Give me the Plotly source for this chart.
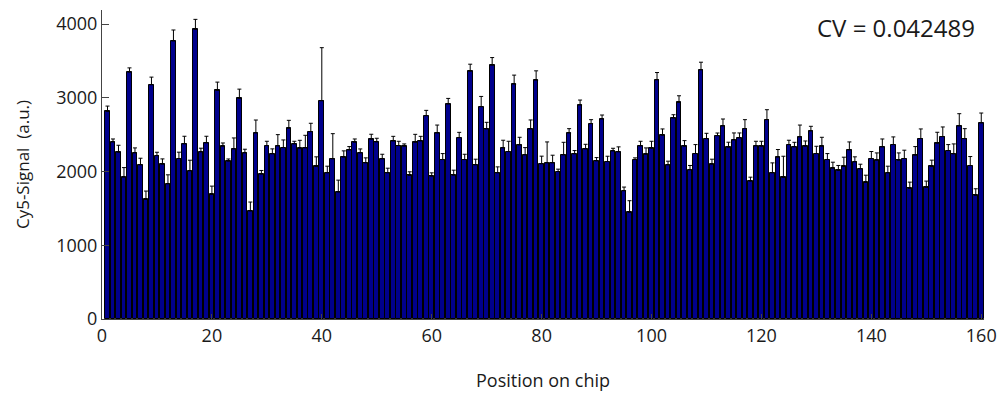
import plotly.graph_objects as go

positions = list(range(1, 161))
signal = [
    2815, 2401, 2261, 1923, 3347, 2252, 2090, 1622, 3176, 2216, 2099, 1833, 3770, 2176, 2374, 2009, 3928, 2266, 2388, 1689,
    3099, 2342, 2140, 2306, 2991, 2252, 1464, 2522, 1964, 2351, 2239, 2347, 2324, 2586, 2374, 2315, 2320, 2541, 2068, 2959,
    1982, 2171, 1721, 2194, 2293, 2396, 2252, 2117, 2437, 2401, 2171, 1982, 2414, 2351, 2342, 1946, 2396, 2414, 2757, 1937,
    2522, 2162, 2914, 1950, 2459, 2162, 3360, 2090, 2878, 2577, 3441, 1982, 2320, 2270, 3185, 2360, 2225, 2577, 3239, 2104,
    2117, 2117, 2000, 2225, 2522, 2239, 2901, 2306, 2649, 2144, 2712, 2135, 2279, 2266, 1739, 1446, 2162, 2347, 2234, 2315,
    3243, 2491, 2090, 2725, 2937, 2342, 2023, 2243, 3378, 2446, 2099, 2486, 2617, 2329, 2428, 2455, 2581, 1869, 2347, 2342,
    2703, 1982, 2194, 1919, 2365, 2333, 2468, 2342, 2550, 2243, 2342, 2162, 2045, 2014, 2068, 2293, 2131, 2036, 1851, 2176,
    2153, 2333, 1982, 2365, 2153, 2176, 1770, 2221, 2446, 1784, 2068, 2383, 2473, 2284, 2239, 2617, 2446, 2081, 1676, 2658,
]
errors = [
    72, 40, 95, 130, 58, 68, 90, 113, 104, 45, 72, 122, 149, 86, 104, 144, 135, 50, 90, 113,
    113, 45, 30, 149, 126, 50, 122, 176, 50, 59, 68, 153, 104, 108, 36, 108, 171, 113, 131, 720,
    90, 342, 162, 86, 45, 45, 54, 68, 68, 50, 63, 63, 63, 59, 32, 50, 108, 63, 72, 45,
    108, 81, 77, 68, 72, 72, 95, 77, 140, 90, 104, 81, 104, 140, 122, 104, 99, 122, 126, 104,
    284, 104, 32, 171, 59, 45, 68, 63, 54, 45, 54, 72, 36, 68, 50, 158, 23, 63, 86, 95,
    99, 86, 50, 45, 90, 77, 59, 122, 104, 72, 68, 36, 95, 68, 95, 68, 122, 54, 63, 68,
    135, 135, 104, 288, 59, 63, 162, 72, 63, 99, 122, 81, 81, 68, 126, 108, 68, 63, 99, 95,
    99, 108, 90, 104, 99, 113, 86, 117, 131, 86, 86, 149, 131, 81, 135, 167, 135, 122, 90, 135,
]
x_ticks = [0, 20, 40, 60, 80, 100, 120, 140, 160]
y_ticks = [0, 1000, 2000, 3000, 4000]
cv_text = "CV = 0.042489"

FONT = "Open Sans"

fig = go.Figure()
fig.add_trace(go.Bar(
    x=positions,
    y=signal,
    width=0.85,
    marker=dict(color="#00008C", line=dict(color="#000000", width=1)),
    error_y=dict(type="data", symmetric=False, array=errors,
                 arrayminus=[0] * len(errors),
                 color="#000000", thickness=1, width=2),
    showlegend=False,
))

fig.add_annotation(
    x=1, y=1, xref="paper", yref="paper",
    xanchor="right", yanchor="top", xshift=-7, yshift=1,
    text=cv_text, showarrow=False,
    font=dict(family=FONT, size=24, color="#1a1a1a"),
)

fig.update_layout(
    width=999, height=394,
    margin=dict(l=102, r=15, t=10, b=75),
    paper_bgcolor="white", plot_bgcolor="white",
    font=dict(family=FONT, size=16, color="#1a1a1a"),
    bargap=0,
    xaxis=dict(
        range=[0, 160.5], tickvals=x_ticks, ticktext=[str(v) for v in x_ticks],
        automargin=False,
        showgrid=False, zeroline=False, showline=True, linecolor="#444444", linewidth=1,
        ticks="inside", ticklen=5, tickcolor="#444444",
        title=dict(text="Position on chip", standoff=28, font=dict(family=FONT, size=18)),
        tickfont=dict(family=FONT, size=18),
    ),
    yaxis=dict(
        range=[0, 4190], tickvals=y_ticks, ticktext=[str(v) for v in y_ticks],
        automargin=False,
        showgrid=False, zeroline=False, showline=True, linecolor="#444444", linewidth=1,
        ticks="inside", ticklen=7, tickcolor="#444444",
        title=dict(text="Cy5-Signal  (a.u.)", standoff=22, font=dict(family=FONT, size=17)),
        tickfont=dict(family=FONT, size=18),
    ),
)

fig.write_html("out.html")
